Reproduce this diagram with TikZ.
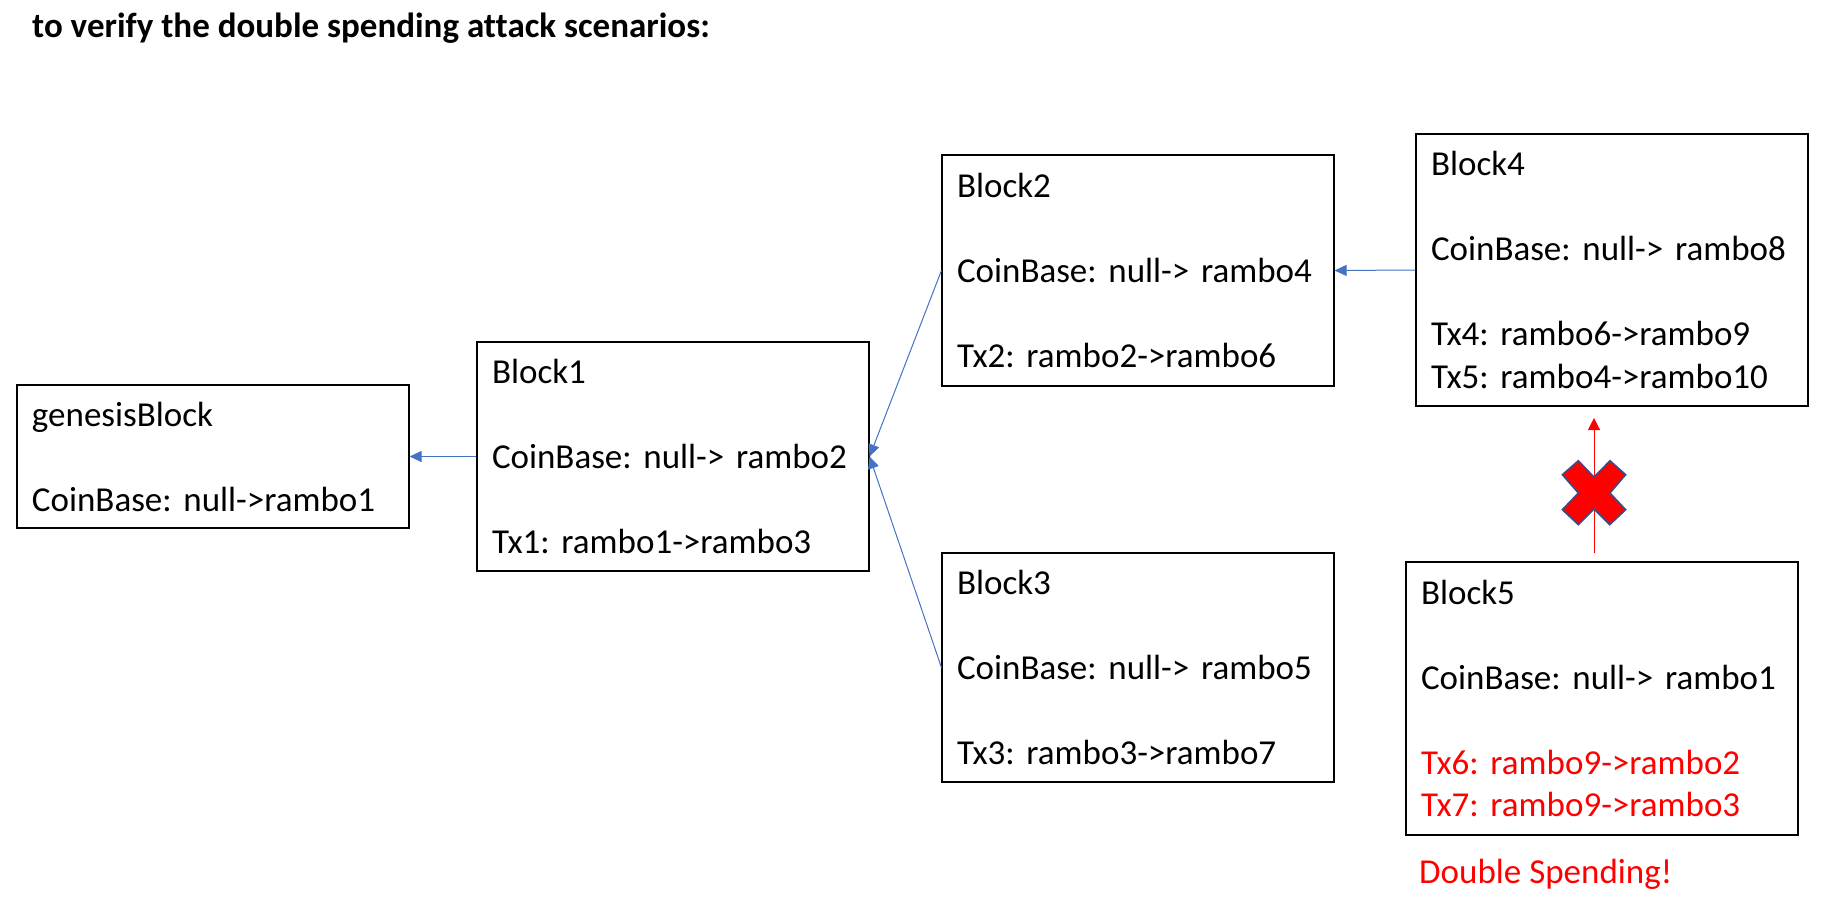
\documentclass[tikz,border=0pt]{standalone}
\usepackage{fontspec}
\setmainfont{Carlito}[Ligatures=CommonOff]
\usetikzlibrary{arrows.meta}
\definecolor{linkblue}{RGB}{68,114,196}
\definecolor{xborder}{RGB}{47,82,143}
\frenchspacing
\tikzset{
  blk/.style={draw=black, line width=1.1bp, rectangle, minimum width=392bp,
    text width=362bp, inner xsep=15bp, inner ysep=0bp, align=left,
    font=\fontsize{35bp}{42.5bp}\selectfont},
  link/.style={draw=linkblue, line width=1bp, -{Triangle[length=12bp,width=11bp]}},
  redlink/.style={draw=red, line width=1bp, -{Triangle[length=12bp,width=12bp]}},
  title/.style={font=\fontsize{35bp}{42bp}\selectfont\bfseries, anchor=base west, inner sep=0pt},
  warn/.style={font=\fontsize{35bp}{42bp}\selectfont, text=red, anchor=base west, inner sep=0pt},
}
\begin{document}
\begin{tikzpicture}[x=1bp,y=-1bp]
\useasboundingbox (0,0) rectangle (1830,918);
\node[title] (ttl) at (32,37) {to verify the double spending attack scenarios:};

\node[blk, minimum height=143bp] (g) at (213,456.5)
  {genesisBlock\\[42.5bp]CoinBase: null->rambo1};
\node[blk, minimum height=229bp] (b1) at (673,456.5)
  {Block1\\[42.5bp]CoinBase: null-> rambo2\\[42.5bp]Tx1: rambo1->rambo3};
\node[blk, minimum height=231bp] (b2) at (1138,270.5)
  {Block2\\[42.5bp]CoinBase: null-> rambo4\\[42.5bp]Tx2: rambo2->rambo6};
\node[blk, minimum height=229bp] (b3) at (1138,667.5)
  {Block3\\[42.5bp]CoinBase: null-> rambo5\\[42.5bp]Tx3: rambo3->rambo7};
\node[blk, minimum height=272bp] (b4) at (1612,270)
  {Block4\\[42.5bp]CoinBase: null-> rambo8\\[42.5bp]Tx4: rambo6->rambo9\\Tx5: rambo4->rambo10};
\node[blk, minimum height=273bp] (b5) at (1602,698.5)
  {Block5\\[42.5bp]CoinBase: null-> rambo1\\[42.5bp]\textcolor{red}{Tx6: rambo9->rambo2}\\\textcolor{red}{Tx7: rambo9->rambo3}};
\node[warn] (ds) at (1419,883) {Double Spending!};

\draw[link] (b1.west) -- (g.east);
\draw[link] (b2.west) -- (b1.east);
\draw[link] (b3.west) -- (b1.east);
\draw[link] (b4.west) -- (b2.east);

\coordinate (rs) at (1594,553);
\coordinate (re) at (1594,418);
\draw[redlink] (rs) -- (re);

\begin{scope}[shift={(1594,493)}]
\fill[red, draw=xborder, line width=1.5bp]
  (0,-16) -- (16,-32.3) -- (31.7,-18.3) -- (16,0) -- (31.7,16.7) -- (15.7,31.7)
  -- (0,16) -- (-15.7,31.7) -- (-31.7,16.7) -- (-15.7,0) -- (-31.7,-18.3)
  -- (-15.7,-32.3) -- cycle;
\end{scope}
\end{tikzpicture}
\end{document}
